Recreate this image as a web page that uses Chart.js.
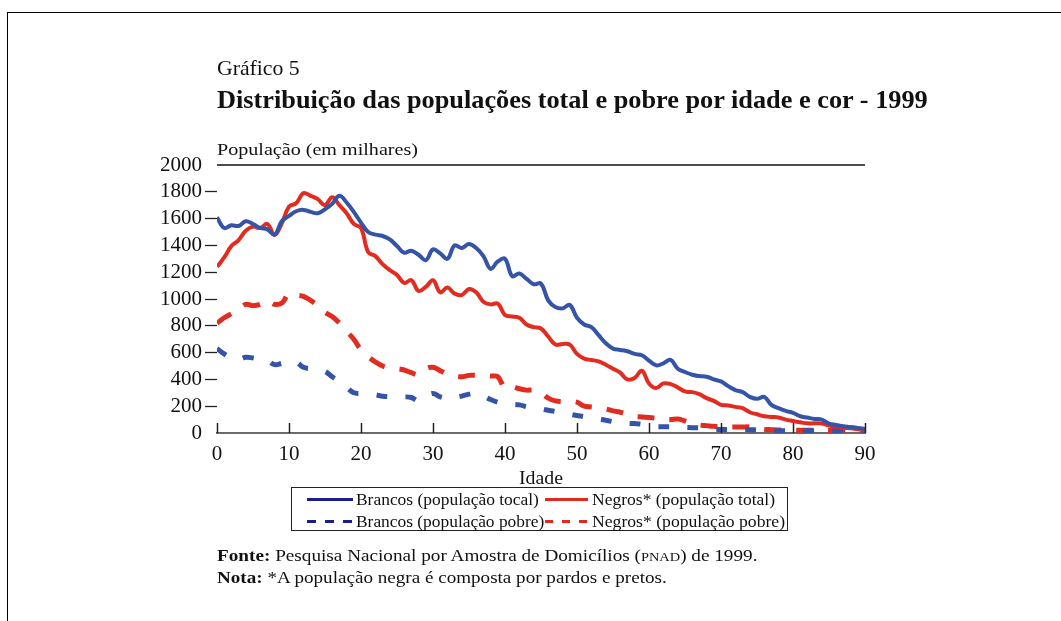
<!DOCTYPE html>
<html>
<head>
<meta charset="utf-8">
<script src="https://cdn.jsdelivr.net/npm/chart.js@4.4.1/dist/chart.umd.min.js"></script>
<style>
  html, body { margin: 0; padding: 0; background: #fff; }
  body { width: 1061px; height: 621px; position: relative; overflow: hidden; font-family: "Liberation Serif", serif; color: #111; }
  #frame { position: absolute; left: 7px; top: 12px; width: 1070px; height: 640px; border-left: 1.5px solid #000; border-top: 1.5px solid #000; }
  #chart { position: absolute; left: 0; top: 0; }
  .txt { position: absolute; white-space: nowrap; line-height: 1; transform-origin: 0 50%; }
  #legend { position: absolute; left: 291px; top: 487px; width: 495px; height: 42px; border: 1.5px solid #222; }
  .sw { position: absolute; height: 3px; }
  .lg { position: absolute; white-space: nowrap; font-size: 16px; line-height: 1; transform-origin: 0 50%; }
</style>
</head>
<body>
<div id="frame"></div>
<canvas id="chart" width="1061" height="621"></canvas>

<div class="txt" id="t1" style="left:217px; top:57px; font-size:22px;">Gráfico 5</div>
<div class="txt" id="t2" style="left:217px; top:87px; font-size:26px; font-weight:bold;">Distribuição das populações total e pobre por idade e cor - 1999</div>
<div class="txt" id="t3" style="left:217px; top:141px; font-size:17px;">População (em milhares)</div>
<div class="txt" id="t4" style="left:519px; top:469px; font-size:18px;">Idade</div>

<div id="legend">
  <div class="sw" style="left:15px; top:10px; width:46px; background:#1d1d8e;"></div>
  <div class="lg" id="l1" style="left:64px; top:4px;">Brancos (população tocal)</div>
  <div class="sw" style="left:253px; top:10px; width:43px; background:#e2291d;"></div>
  <div class="lg" id="l2" style="left:300px; top:4px;">Negros* (população total)</div>
  <div class="sw" style="left:15px; top:32px; width:46px; background:repeating-linear-gradient(90deg,#1d1d8e 0 9px,transparent 9px 18px);"></div>
  <div class="lg" id="l3" style="left:64px; top:26px;">Brancos (população pobre)</div>
  <div class="sw" style="left:253px; top:32px; width:42px; background:repeating-linear-gradient(90deg,#e2291d 0 8px,transparent 8px 17px);"></div>
  <div class="lg" id="l4" style="left:300px; top:26px;">Negros* (população pobre)</div>
</div>

<div class="txt" id="n1" style="left:217px; top:548px; font-size:16px;"><b>Fonte:</b> Pesquisa Nacional por Amostra de Domicílios (<span style="font-size:12px">PNAD</span>) de 1999.</div>
<div class="txt" id="n2" style="left:217px; top:570px; font-size:16px;"><b>Nota:</b> *A população negra é composta por pardos e pretos.</div>

<script>
// idade (anos)
const ages = [0,1,2,3,4,5,6,7,8,9,10,11,12,13,14,15,16,17,18,19,20,21,22,23,24,25,26,27,28,29,
  30,31,32,33,34,35,36,37,38,39,40,41,42,43,44,45,46,47,48,49,50,51,52,53,54,55,56,57,58,59,
  60,61,62,63,64,65,66,67,68,69,70,71,72,73,74,75,76,77,78,79,80,81,82,83,84,85,86,87,88,89,90];

// população em milhares
const brancosTotal = [1610,1530,1550,1545,1580,1560,1530,1520,1480,1580,1620,1655,1665,1650,1640,1670,1710,1770,1720,1650,
  1570,1500,1480,1470,1445,1395,1345,1360,1330,1290,1370,1340,1300,1400,1380,1410,1380,1320,1225,1280,
  1300,1170,1190,1150,1110,1115,990,940,930,955,860,810,790,730,670,630,620,610,590,580,
  540,505,520,545,480,455,435,425,420,400,385,350,320,305,270,255,270,210,185,165,
  150,125,115,105,100,70,60,50,45,38,30];

const negrosTotal = [1240,1310,1395,1440,1510,1540,1530,1560,1478,1565,1690,1715,1790,1770,1745,1700,1760,1700,1640,1560,
  1530,1350,1320,1260,1215,1180,1120,1140,1060,1090,1140,1050,1085,1040,1030,1075,1050,980,960,965,
  880,870,860,810,790,780,720,660,665,660,590,555,545,535,510,480,450,400,410,465,
  370,335,370,365,340,310,305,290,260,240,210,205,195,185,155,140,125,120,115,100,
  90,80,72,72,70,55,47,40,35,28,22];

const brancosPobre = [630,590,560,550,565,560,550,540,510,520,530,530,490,480,475,460,420,385,340,300,
  295,290,285,275,272,270,270,265,240,270,295,270,260,265,275,290,295,275,250,230,
  220,215,210,196,185,180,170,160,148,140,130,122,110,105,95,85,75,72,70,66,
  55,47,47,47,47,42,40,38,35,30,27,27,27,27,25,22,20,18,17,17,
  17,17,16,16,16,16,16,15,15,15,15];

const negrosPobre = [820,860,890,920,960,950,960,990,960,970,1040,1030,1020,990,950,900,870,820,760,700,
  620,570,530,500,485,480,470,450,435,480,490,465,440,425,420,430,430,430,425,420,
  335,345,330,320,320,300,260,240,235,235,230,200,195,190,180,165,155,140,125,120,
  115,110,100,100,105,90,70,60,55,50,47,45,45,45,45,35,28,25,22,22,
  22,20,20,20,20,18,18,17,17,16,15];

const yTicks = [0,200,400,600,800,1000,1200,1400,1600,1800,2000];
const xTicks = [0,10,20,30,40,50,60,70,80,90];

const blue = 'rgb(52, 84, 168)';
const red = 'rgb(226, 44, 32)';

function points(vals) {
  return ages.map((a, i) => ({ x: a, y: vals[i] }));
}

// traço superior e marcas do eixo x voltadas para cima
const framePlugin = {
  id: 'framePlugin',
  afterDraw(chart) {
    const ctx = chart.ctx;
    const area = chart.chartArea;
    const xs = chart.scales.x;
    ctx.save();
    ctx.strokeStyle = '#111';
    ctx.lineWidth = 1.3;
    ctx.beginPath();
    ctx.moveTo(area.left, area.top);
    ctx.lineTo(area.right, area.top);
    ctx.stroke();
    ctx.strokeStyle = '#222';
    ctx.lineWidth = 1.5;
    xTicks.forEach(v => {
      const px = Math.round(xs.getPixelForValue(v)) + 0.5;
      ctx.beginPath();
      ctx.moveTo(px, area.bottom);
      ctx.lineTo(px, area.bottom - 10);
      ctx.stroke();
    });
    ctx.restore();
  }
};

new Chart(document.getElementById('chart').getContext('2d'), {
  type: 'line',
  data: {
    datasets: [
      { label: 'Brancos (população tocal)', data: points(brancosTotal), borderColor: blue, borderWidth: 4, tension: 0.4 },
      { label: 'Negros* (população total)', data: points(negrosTotal), borderColor: red, borderWidth: 4, tension: 0.4 },
      { label: 'Brancos (população pobre)', data: points(brancosPobre), borderColor: blue, borderWidth: 5, borderDash: [11, 18], tension: 0.4 },
      { label: 'Negros* (população pobre)', data: points(negrosPobre), borderColor: red, borderWidth: 5, borderDash: [17, 15], tension: 0.4 }
    ]
  },
  options: {
    responsive: false,
    animation: false,
    layout: { padding: { left: 147, top: 165, right: 196, bottom: 158 } },
    elements: { point: { radius: 0 } },
    plugins: { legend: { display: false }, tooltip: { enabled: false } },
    scales: {
      x: {
        type: 'linear',
        min: 0,
        max: 90,
        afterFit: s => { s.height = 30; },
        afterBuildTicks: s => { s.ticks = xTicks.map(v => ({ value: v })); },
        grid: { display: false, drawTicks: false },
        border: { display: true, color: '#6a6a6a', width: 2 },
        ticks: { padding: 9, autoSkip: false, color: '#111', font: { family: 'Liberation Serif', size: 21 }, maxRotation: 0, callback: v => String(v) }
      },
      y: {
        min: 0,
        max: 2000,
        afterFit: s => { s.width = 70; },
        afterBuildTicks: s => { s.ticks = yTicks.map(v => ({ value: v })); },
        grid: {
          drawOnChartArea: false,
          tickLength: 12,
          tickWidth: 1.3,
          color: c => (c.tick && (c.tick.value === 0 || c.tick.value === 2000)) ? 'rgba(0,0,0,0)' : '#222'
        },
        border: { display: false },
        ticks: { padding: 3, autoSkip: false, color: '#111', font: { family: 'Liberation Serif', size: 21 }, callback: v => String(v) }
      }
    }
  },
  plugins: [framePlugin]
});

// ajusta largura dos textos à referência
function fit(id, w) {
  const el = document.getElementById(id);
  el.style.transform = 'scaleX(' + (w / el.offsetWidth) + ')';
}
fit('t1', 83);
fit('t2', 711);
fit('t3', 201);
fit('t4', 44);
fit('l1', 183);
fit('l2', 183);
fit('l3', 188);
fit('l4', 193);
fit('n1', 540);
fit('n2', 450);
</script>
</body>
</html>
